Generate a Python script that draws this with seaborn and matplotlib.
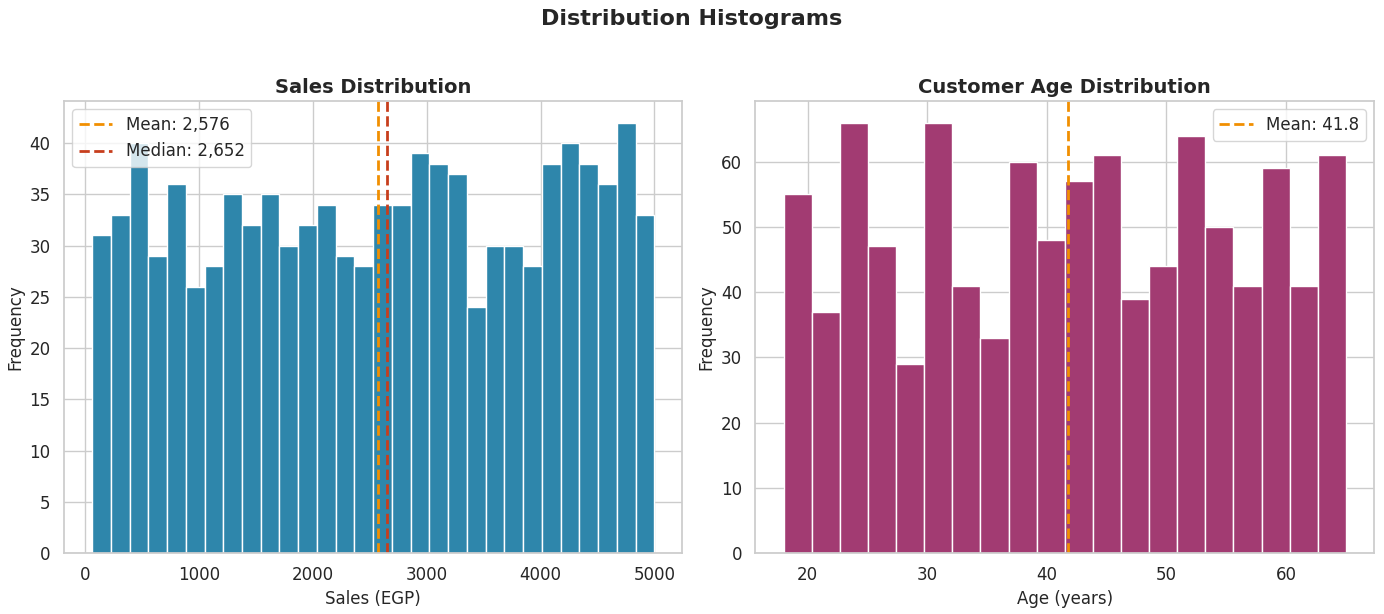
import numpy as np
import pandas as pd
import matplotlib
matplotlib.use("Agg")
import matplotlib.pyplot as plt
import seaborn as sns

# Sales histogram (30 bins between min and max sale)
sales_min, sales_max = 60, 5000
sales_counts = [31, 33, 40, 29, 36, 26, 28, 35, 32, 35,
                30, 32, 34, 29, 28, 34, 34, 39, 38, 37,
                24, 30, 30, 28, 38, 40, 38, 36, 42, 33]
sales_mean = 2576
sales_median = 2652

# Customer age histogram (20 bins)
age_min, age_max = 18, 65
age_counts = [55, 37, 66, 47, 29, 66, 41, 33, 60, 48,
              57, 61, 39, 44, 64, 50, 41, 59, 41, 61]
age_mean = 41.8

BLUE = "#2E86AB"
PURPLE = "#A23B72"
ORANGE = "#F18F01"
RED = "#C73E1D"


def binned(lo, hi, counts):
    # one row per bin: bin centre + its count
    edges = np.linspace(lo, hi, len(counts) + 1)
    return pd.DataFrame({"x": (edges[:-1] + edges[1:]) / 2, "n": counts})


sns.set_theme(style="whitegrid")
plt.rcParams['font.family'] = ['DejaVu Sans']

fig, axes = plt.subplots(1, 2, figsize=(13.84, 6.14), dpi=100)
fig.subplots_adjust(left=0.0462, right=0.9928, bottom=0.0993, top=0.8355, wspace=0.118)

# Sales
ax = axes[0]
df = binned(sales_min, sales_max, sales_counts)
sns.histplot(data=df, x="x", weights="n", bins=len(sales_counts),
             binrange=(sales_min, sales_max), color=BLUE, alpha=1,
             edgecolor="white", linewidth=1, ax=ax)
ax.axvline(sales_mean, color=ORANGE, linestyle="--", linewidth=2, label=f"Mean: {sales_mean:,}")
ax.axvline(sales_median, color=RED, linestyle="--", linewidth=2, label=f"Median: {sales_median:,}")
ax.set_title("Sales Distribution", fontsize=14, fontweight="bold")
ax.set_xlabel("Sales (EGP)", fontsize=12)
ax.set_ylabel("Frequency", fontsize=12)
ax.tick_params(labelsize=12)
ax.legend(loc="upper left", fontsize=12)

# Age
ax = axes[1]
df = binned(age_min, age_max, age_counts)
sns.histplot(data=df, x="x", weights="n", bins=len(age_counts),
             binrange=(age_min, age_max), color=PURPLE, alpha=1,
             edgecolor="white", linewidth=1, ax=ax)
ax.axvline(age_mean, color=ORANGE, linestyle="--", linewidth=2, label=f"Mean: {age_mean:.1f}")
ax.set_title("Customer Age Distribution", fontsize=14, fontweight="bold")
ax.set_xlabel("Age (years)", fontsize=12)
ax.set_ylabel("Frequency", fontsize=12)
ax.tick_params(labelsize=12)
ax.legend(loc="upper right", fontsize=12)

fig.suptitle("Distribution Histograms", fontsize=16, fontweight="bold", y=0.985)

plt.savefig("out.png", dpi=100)
